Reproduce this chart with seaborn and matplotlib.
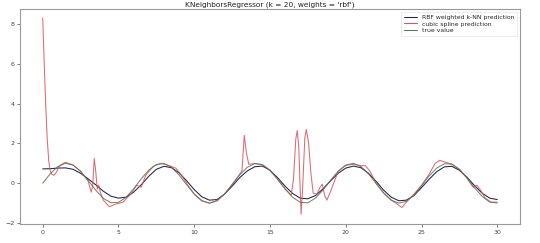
import matplotlib
matplotlib.use("Agg")
import matplotlib.pyplot as plt
import seaborn as sns
import numpy as np

title = "KNeighborsRegressor (k = 20, weights = 'rbf')"
labels = ["RBF weighted k-NN prediction", "cubic spline prediction", "true value"]

grid_x = [0.0, 0.5, 1.0, 1.5, 2.0, 2.5, 3.0, 3.5, 4.0, 4.5, 5.0, 5.5, 6.0, 6.5, 7.0, 7.5,
          8.0, 8.5, 9.0, 9.5, 10.0, 10.5, 11.0, 11.5, 12.0, 12.5, 13.0, 13.5, 14.0, 14.5,
          15.0, 15.5, 16.0, 16.5, 17.0, 17.5, 18.0, 18.5, 19.0, 19.5, 20.0, 20.5, 21.0,
          21.5, 22.0, 22.5, 23.0, 23.5, 24.0, 24.5, 25.0, 25.5, 26.0, 26.5, 27.0, 27.5,
          28.0, 28.5, 29.0, 29.5, 30.0]

true_y = [0.00, 0.48, 0.84, 1.00, 0.91, 0.60, 0.14, -0.35, -0.76, -0.98, -0.96, -0.71,
          -0.28, 0.22, 0.66, 0.94, 0.99, 0.80, 0.41, -0.08, -0.54, -0.88, -1.00, -0.88,
          -0.54, -0.07, 0.42, 0.80, 0.99, 0.93, 0.65, 0.20, -0.29, -0.71, -0.96, -0.98,
          -0.75, -0.34, 0.15, 0.61, 0.91, 1.00, 0.84, 0.47, -0.01, -0.49, -0.85, -1.00,
          -0.91, -0.59, -0.13, 0.36, 0.76, 0.98, 0.96, 0.70, 0.27, -0.23, -0.66, -0.95,
          -0.99]

knn_y = [0.72, 0.73, 0.76, 0.77, 0.70, 0.50, 0.22, -0.08, -0.40, -0.65, -0.75, -0.70,
         -0.45, -0.08, 0.35, 0.70, 0.85, 0.78, 0.52, 0.12, -0.32, -0.68, -0.85, -0.82,
         -0.55, -0.15, 0.28, 0.62, 0.83, 0.86, 0.65, 0.28, -0.15, -0.52, -0.75, -0.78,
         -0.62, -0.28, 0.12, 0.50, 0.76, 0.86, 0.78, 0.50, 0.10, -0.35, -0.70, -0.88,
         -0.85, -0.62, -0.22, 0.20, 0.58, 0.82, 0.85, 0.65, 0.30, -0.12, -0.50, -0.75,
         -0.82]

spline_x = [0.0, 0.1, 0.2, 0.3, 0.4, 0.5, 0.6, 0.75, 0.9, 1.05, 1.25, 1.5, 2.0, 2.5, 3.0,
            3.2, 3.3, 3.4, 3.5, 3.6, 3.7, 3.8, 4.0, 4.4, 4.8, 5.3, 5.8, 6.2, 6.5, 6.8,
            7.3, 7.8, 8.3, 8.8, 9.2, 9.6, 10.0, 10.5, 11.0, 11.5, 12.0, 12.5, 13.0, 13.15,
            13.3, 13.45, 13.6, 14.0, 14.5, 15.0, 15.5, 16.0, 16.4, 16.55, 16.7, 16.8, 16.9,
            17.0, 17.05, 17.15, 17.3, 17.4, 17.55, 17.7, 17.85, 18.1, 18.3, 18.45, 18.6,
            18.75, 18.95, 19.2, 19.5, 20.0, 20.5, 21.0, 21.3, 21.6, 22.0, 22.5, 23.0, 23.4,
            23.7, 24.0, 24.5, 25.0, 25.5, 25.9, 26.2, 26.6, 27.0, 27.5, 28.0, 28.4, 28.65,
            28.9, 29.2, 29.6, 30.0]
spline_y = [8.3, 6.0, 3.9, 2.2, 1.1, 0.6, 0.45, 0.4, 0.55, 0.8, 0.95, 1.05, 0.92, 0.6, 0.1,
            -0.45, -0.1, 1.25, 0.6, -0.3, -0.1, -0.45, -0.85, -1.18, -1.05, -0.95, -0.55,
            -0.1, -0.2, 0.4, 0.85, 1.0, 0.9, 0.75, 0.35, -0.12, -0.55, -0.88, -1.0, -0.88,
            -0.54, -0.07, 0.45, 0.62, 2.4, 1.5, 0.95, 0.99, 0.93, 0.65, 0.2, -0.29, -0.6,
            0.2, 2.2, 2.65, 1.8, -0.5, -1.55, -0.3, 2.3, 2.7, 2.0, 0.5, -0.5, -0.55, -0.2,
            -0.05, -0.6, -0.85, -0.5, 0.0, 0.6, 0.9, 0.95, 0.88, 0.88, 0.6, 0.0, -0.49,
            -0.85, -1.05, -1.22, -0.95, -0.55, -0.1, 0.45, 1.0, 1.15, 1.05, 0.96, 0.7, 0.25,
            -0.2, -0.1, -0.35, -0.75, -0.95, -0.95]

sns.set_style("white")
plt.rcParams['font.family'] = ['DejaVu Sans']

fig = plt.figure(figsize=(5.4, 2.43), dpi=100)
ax = fig.add_axes([0.037, 0.078, 0.926, 0.885])

sns.lineplot(x=grid_x, y=knn_y, ax=ax, color="#20205e", lw=0.75, estimator=None,
             sort=False, label=labels[0])
sns.lineplot(x=spline_x, y=spline_y, ax=ax, color="#d9505a", lw=0.75, alpha=0.85,
             estimator=None, sort=False, label=labels[1])
sns.lineplot(x=grid_x, y=true_y, ax=ax, color="#5f7548", lw=0.75, alpha=0.85,
             estimator=None, sort=False, label=labels[2])

ax.set_xlim(-1.5, 31.5)
ax.set_ylim(-2.05, 8.75)
ax.set_xticks([0, 5, 10, 15, 20, 25, 30])
ax.set_yticks([-2, 0, 2, 4, 6, 8])
ax.tick_params(axis='both', labelsize=4.5, colors="#444444", length=2, width=0.5,
               pad=2, bottom=True, left=True)
for s in ax.spines.values():
    s.set_color("#999999")
    s.set_linewidth(0.8)
ax.set_title(title, fontsize=5.3, pad=2, color="#222222")
leg = ax.legend(loc="upper right", fontsize=4.4, frameon=True, handlelength=2.2,
                borderpad=0.4, labelspacing=0.25, fancybox=False)
leg.get_frame().set_edgecolor("#dddddd")
leg.get_frame().set_linewidth(0.5)
for l in leg.get_lines():
    l.set_alpha(1)

fig.savefig("out.png", dpi=100)
